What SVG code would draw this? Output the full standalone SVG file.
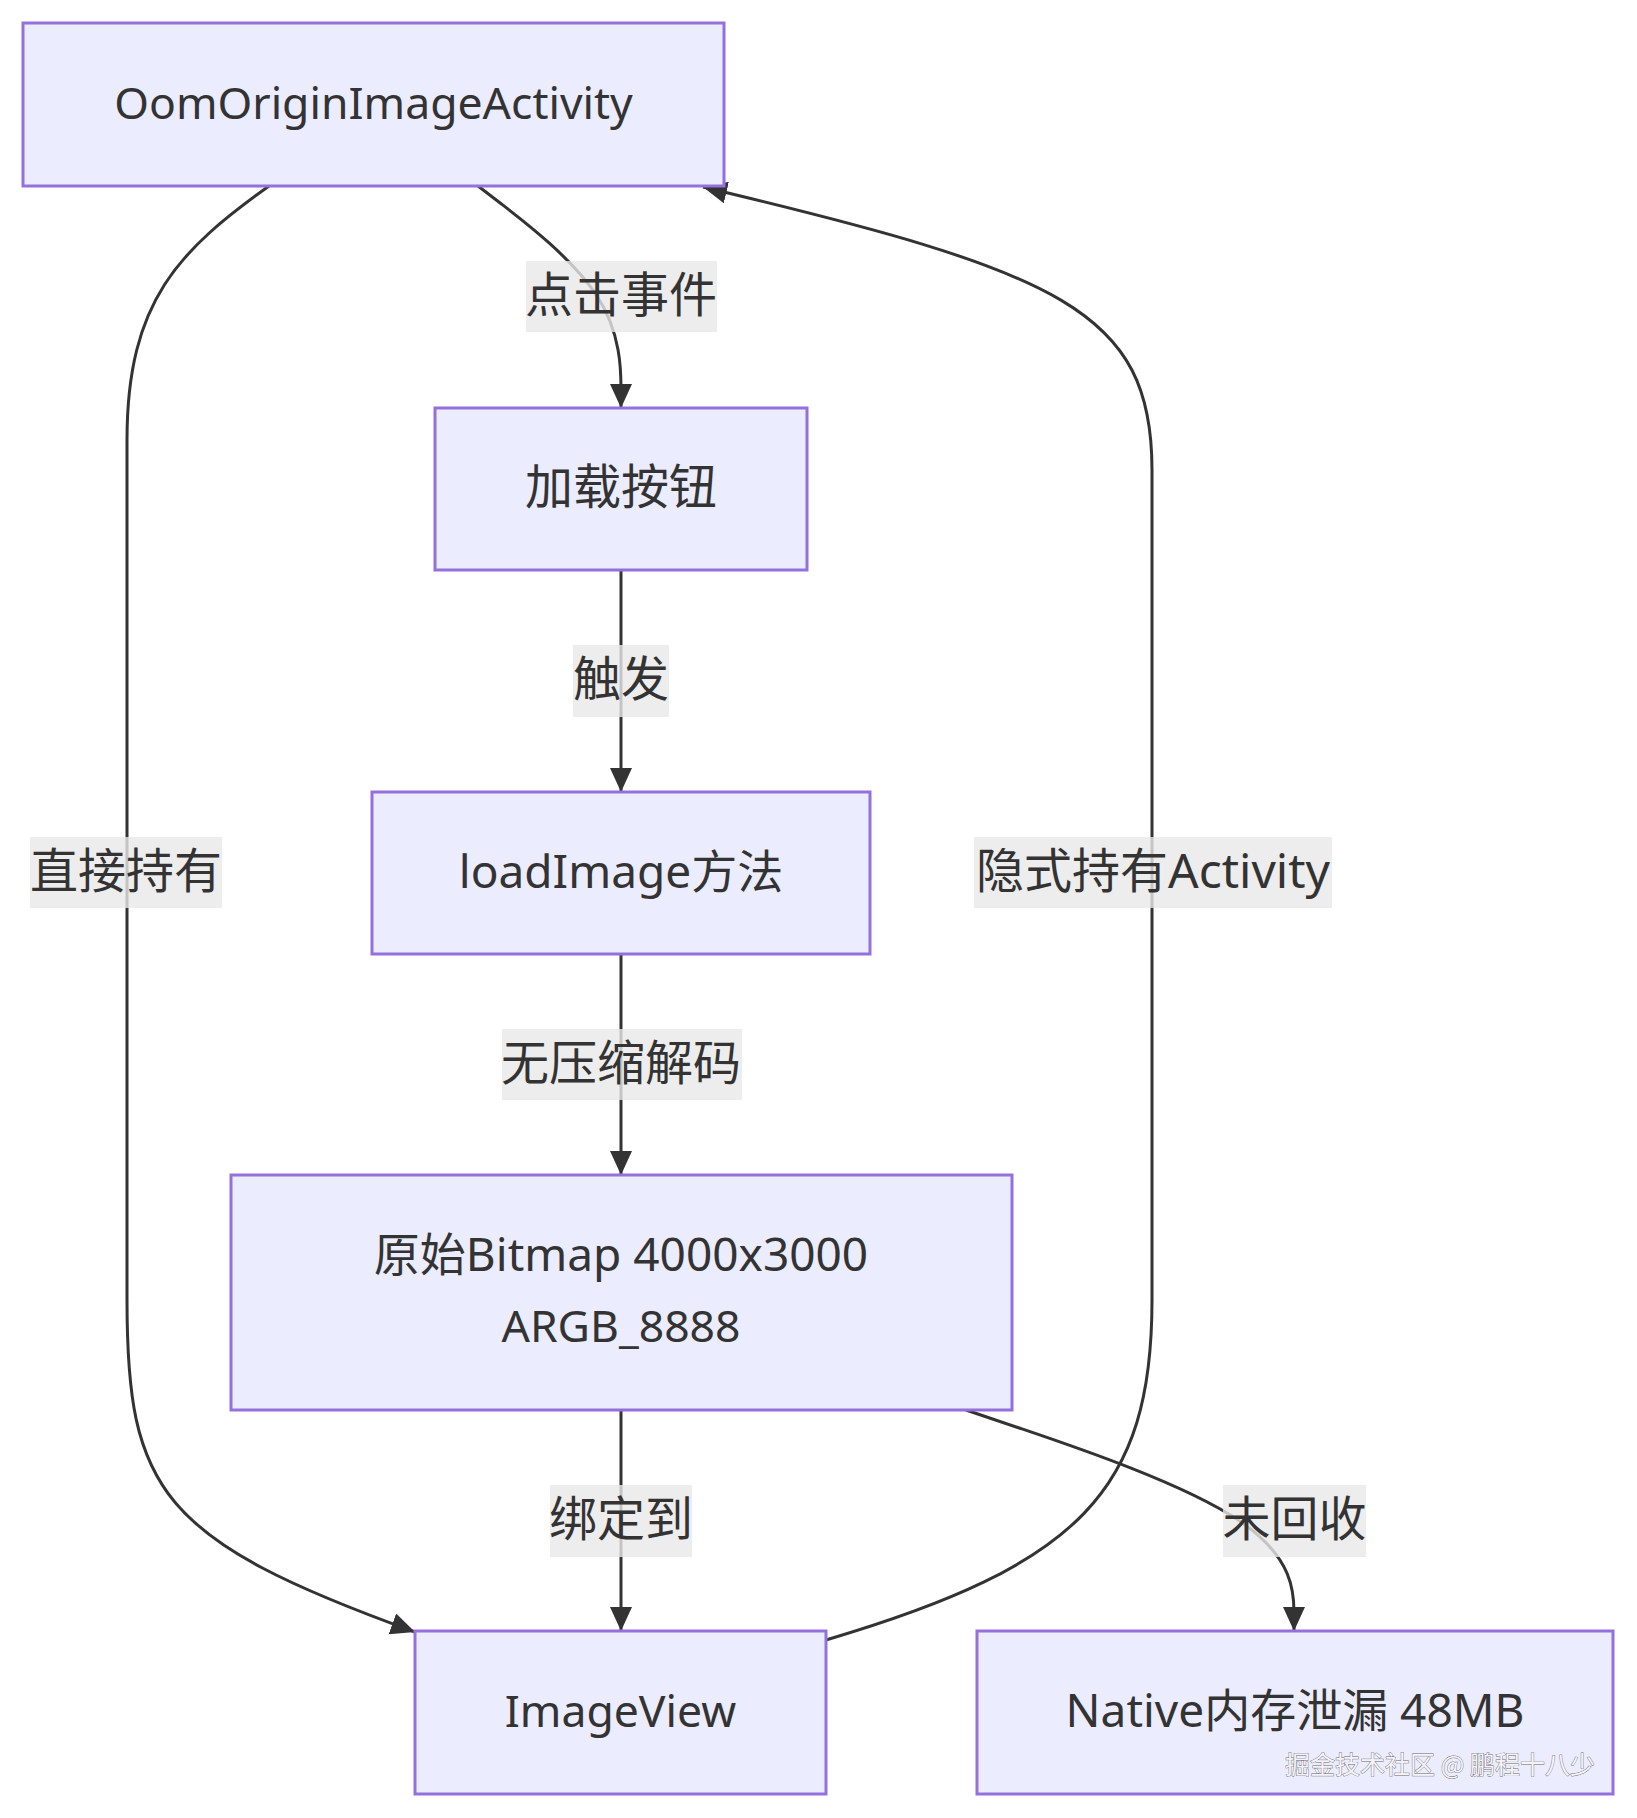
<svg xmlns="http://www.w3.org/2000/svg" width="1637" height="1818" viewBox="0 0 1637 1818">
<style>
.node rect{fill:#ECECFF;stroke:#9370DB;stroke-width:3}
.node text,.lbl text{font-family:"Noto Sans","Noto Sans CJK SC",sans-serif;font-size:46px;fill:#333;text-anchor:middle;dominant-baseline:central}
.lbl text,.node text.cjk{font-size:48px}
.node text.lat{font-size:44.5px}
.edge{fill:none;stroke:#333;stroke-width:3}
.lbl rect{fill:#e8e8e8;opacity:0.8}
.wm{font-family:"Noto Sans CJK SC","Noto Sans",sans-serif;font-size:25px;fill:#f4f4f8;stroke:#6a6a6a;stroke-width:0.8;paint-order:stroke;text-anchor:middle;dominant-baseline:central}
</style>
<defs>
<marker id="arrow" markerUnits="userSpaceOnUse" viewBox="0 0 24 22" markerWidth="24" markerHeight="22" refX="24" refY="11" orient="auto">
<path d="M0,0 L24,11 L0,22 z" fill="#333"/>
</marker>
</defs>
<rect width="1637" height="1818" fill="#fff"/>
<g id="connectors">
<path class="edge" d="M478,186 L501.8,204.3 C525.7,222.7 573.3,259.3 597.2,296.3 C621,333.3 621,370.7 621,389.3 L621,408" marker-end="url(#arrow)"/>
<path class="edge" d="M621,570 L621,792" marker-end="url(#arrow)"/>
<path class="edge" d="M621,954 L621,1175" marker-end="url(#arrow)"/>
<path class="edge" d="M621,1410 L621,1631" marker-end="url(#arrow)"/>
<path class="edge" d="M966,1410 L1020.7,1428.5 C1075.3,1447 1184.7,1484 1239.3,1520.8 C1294,1557.7 1294,1594.3 1294,1612.7 L1294,1631" marker-end="url(#arrow)"/>
<path class="edge" d="M269,186 C180,250 127,300 127,440 L127,1300 C127,1490 160,1540 415,1632" marker-end="url(#arrow)"/>
<path class="edge" d="M826,1640 C1080,1565 1152,1490 1152,1300 L1152,470 C1152,310 1060,272 703,187" marker-end="url(#arrow)"/>
</g>
<g id="edge-labels">
<g class="lbl" id="label-click"><rect x="526" y="261" width="191" height="71"/><text x="621" y="293">点击事件</text></g>
<g class="lbl" id="label-trigger"><rect x="573" y="645" width="96" height="72"/><text x="621" y="677.5">触发</text></g>
<g class="lbl" id="label-decode"><rect x="502" y="1029" width="240" height="71"/><text x="621" y="1061">无压缩解码</text></g>
<g class="lbl" id="label-bind"><rect x="550" y="1485" width="142" height="72"/><text x="621" y="1517.5">绑定到</text></g>
<g class="lbl" id="label-notrecycled"><rect x="1223" y="1485" width="143" height="72"/><text x="1294.5" y="1517.5">未回收</text></g>
<g class="lbl" id="label-direct"><rect x="30" y="837" width="192" height="71"/><text x="126" y="869">直接持有</text></g>
<g class="lbl" id="label-implicit"><rect x="974" y="837" width="358" height="71"/><text x="1153" y="869">隐式持有Activity</text></g>
</g>
<g class="node" id="node-activity"><rect x="23" y="23" width="701" height="163"/><text class="lat" x="373.5" y="101">OomOriginImageActivity</text></g>
<g class="node" id="node-button"><rect x="435" y="408" width="372" height="162"/><text class="cjk" x="621" y="485.5">加载按钮</text></g>
<g class="node" id="node-loadimage"><rect x="372" y="792" width="498" height="162"/><text x="621" y="869.5">loadImage方法</text></g>
<g class="node" id="node-bitmap"><rect x="231" y="1175" width="781" height="235"/><text x="621" y="1252.5">原始Bitmap 4000x3000</text><text class="lat" x="621" y="1324.5">ARGB_8888</text></g>
<g class="node" id="node-imageview"><rect x="415" y="1631" width="411" height="163"/><text class="lat" x="620.5" y="1709">ImageView</text></g>
<g class="node" id="node-native"><rect x="977" y="1631" width="636" height="163"/><text x="1295" y="1709">Native内存泄漏 48MB</text></g>
<text class="wm" x="1440" y="1763">掘金技术社区 @ 鹏程十八少</text>
</svg>
